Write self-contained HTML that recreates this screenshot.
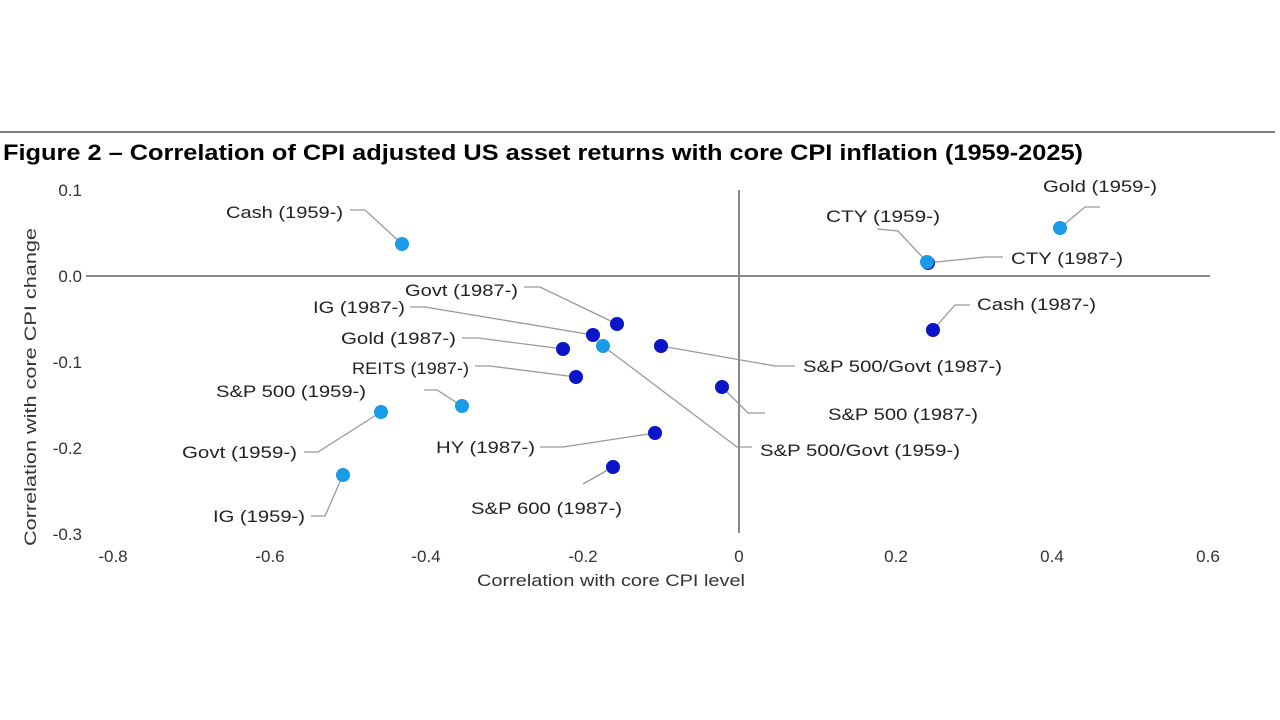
<!DOCTYPE html>
<html><head><meta charset="utf-8"><style>
body{margin:0;background:#fff;}
svg{display:block;font-family:"Liberation Sans",Arial,sans-serif;}
</style></head><body>
<svg width="1280" height="720" xmlns="http://www.w3.org/2000/svg">
<rect width="1280" height="720" fill="#fff"/>
<line x1="0" y1="132" x2="1275" y2="132" stroke="#555" stroke-width="1.5"/>
<text x="3" y="160" font-size="22" font-weight="bold" fill="#000" textLength="1080" lengthAdjust="spacingAndGlyphs">Figure 2 – Correlation of CPI adjusted US asset returns with core CPI inflation (1959-2025)</text>
<g font-size="17" fill="#333">
<text x="82" y="196" text-anchor="end">0.1</text>
<text x="82" y="282" text-anchor="end">0.0</text>
<text x="82" y="368" text-anchor="end">-0.1</text>
<text x="82" y="454" text-anchor="end">-0.2</text>
<text x="82" y="540" text-anchor="end">-0.3</text>
<g text-anchor="middle">
<text x="113" y="562">-0.8</text><text x="270" y="562">-0.6</text><text x="426" y="562">-0.4</text><text x="583" y="562">-0.2</text><text x="739" y="562">0</text><text x="896" y="562">0.2</text><text x="1052" y="562">0.4</text><text x="1208" y="562">0.6</text>
</g>
<text x="477" y="586" textLength="268" lengthAdjust="spacingAndGlyphs">Correlation with core CPI level</text>
<text transform="translate(36,546) rotate(-90)" textLength="318" lengthAdjust="spacingAndGlyphs">Correlation with core CPI change</text>
</g>
<line x1="86" y1="276" x2="1210" y2="276" stroke="#888" stroke-width="2"/>
<line x1="739" y1="190" x2="739" y2="533" stroke="#888" stroke-width="2"/>
<g fill="none" stroke="#999" stroke-width="1.3">
<polyline points="350,210 365,210 402,244"/>
<polyline points="1100,207 1085,207 1060,228"/>
<polyline points="877,229 898,231 927,262"/>
<polyline points="927,263 985,257 1003,257"/>
<polyline points="933,330 955,305 970,305"/>
<polyline points="524,287 540,287 617,324"/>
<polyline points="410,307 425,307 593,335"/>
<polyline points="462,338 478,338 563,349"/>
<polyline points="475,366 490,366 576,377"/>
<polyline points="661,346 775,366 795,366"/>
<polyline points="424,390 437,390 462,406"/>
<polyline points="722,387 748,413 765,413"/>
<polyline points="540,447 563,447 655,433"/>
<polyline points="603,346 737,447 752,447"/>
<polyline points="304,452 318,452 381,412"/>
<polyline points="613,467 583,484"/>
<polyline points="311,516 325,516 343,475"/>
</g>
<g fill="#0a14c8">
<circle cx="928" cy="263" r="7"/>
<circle cx="933" cy="330" r="7"/>
<circle cx="617" cy="324" r="7"/>
<circle cx="593" cy="335" r="7"/>
<circle cx="563" cy="349" r="7"/>
<circle cx="661" cy="346" r="7"/>
<circle cx="576" cy="377" r="7"/>
<circle cx="722" cy="387" r="7"/>
<circle cx="655" cy="433" r="7"/>
<circle cx="613" cy="467" r="7"/>
</g>
<g fill="#1a9be8">
<circle cx="402" cy="244" r="7"/>
<circle cx="1060" cy="228" r="7"/>
<circle cx="927" cy="262" r="7"/>
<circle cx="603" cy="346" r="7"/>
<circle cx="462" cy="406" r="7"/>
<circle cx="381" cy="412" r="7"/>
<circle cx="343" cy="475" r="7"/>
</g>
<g font-size="17" fill="#222">
<text x="226" y="218" textLength="117" lengthAdjust="spacingAndGlyphs">Cash (1959-)</text>
<text x="1043" y="192" textLength="114" lengthAdjust="spacingAndGlyphs">Gold (1959-)</text>
<text x="826" y="222" textLength="114" lengthAdjust="spacingAndGlyphs">CTY (1959-)</text>
<text x="1011" y="264" textLength="112" lengthAdjust="spacingAndGlyphs">CTY (1987-)</text>
<text x="977" y="310" textLength="119" lengthAdjust="spacingAndGlyphs">Cash (1987-)</text>
<text x="405" y="296" textLength="113" lengthAdjust="spacingAndGlyphs">Govt (1987-)</text>
<text x="313" y="313" textLength="92" lengthAdjust="spacingAndGlyphs">IG (1987-)</text>
<text x="341" y="344" textLength="115" lengthAdjust="spacingAndGlyphs">Gold (1987-)</text>
<text x="352" y="374" textLength="117" lengthAdjust="spacingAndGlyphs">REITS (1987-)</text>
<text x="803" y="372" textLength="199" lengthAdjust="spacingAndGlyphs">S&amp;P 500/Govt (1987-)</text>
<text x="216" y="397" textLength="150" lengthAdjust="spacingAndGlyphs">S&amp;P 500 (1959-)</text>
<text x="828" y="420" textLength="150" lengthAdjust="spacingAndGlyphs">S&amp;P 500 (1987-)</text>
<text x="436" y="453" textLength="99" lengthAdjust="spacingAndGlyphs">HY (1987-)</text>
<text x="760" y="456" textLength="200" lengthAdjust="spacingAndGlyphs">S&amp;P 500/Govt (1959-)</text>
<text x="182" y="458" textLength="115" lengthAdjust="spacingAndGlyphs">Govt (1959-)</text>
<text x="471" y="514" textLength="151" lengthAdjust="spacingAndGlyphs">S&amp;P 600 (1987-)</text>
<text x="213" y="522" textLength="92" lengthAdjust="spacingAndGlyphs">IG (1959-)</text>
</g>
</svg>
</body></html>
